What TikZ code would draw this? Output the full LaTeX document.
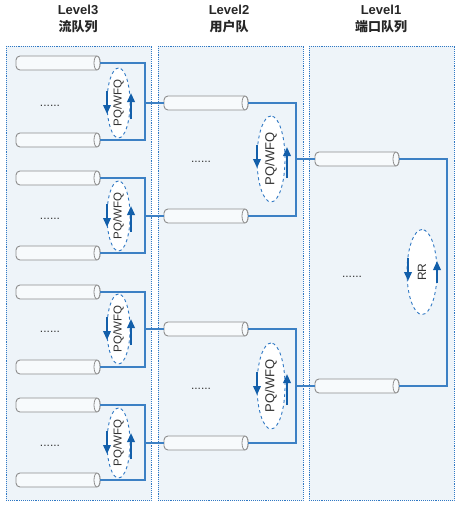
\documentclass[tikz,border=0pt]{standalone}
\usepackage{fontspec}
\setmainfont{Liberation Sans}
\newfontfamily\cjk{Noto Sans CJK SC}
\usetikzlibrary{shapes.geometric,arrows.meta}

\definecolor{panelfill}{HTML}{EEF4F9}
\definecolor{paneledge}{HTML}{2F78C4}
\definecolor{linkblue}{HTML}{3C80C4}
\definecolor{arrblue}{HTML}{135FAA}
\definecolor{cylfill}{HTML}{F7FAFC}
\definecolor{cyledge}{HTML}{8E8E8E}

\tikzset{
  panel/.style={draw=paneledge, fill=panelfill, densely dotted, line width=0.9pt},
  head/.style={align=center, font=\bfseries\fontsize{13}{17}\selectfont, text=black!85},
  queue/.style={rectangle, rounded corners=4pt, draw=cyledge, fill=cylfill, line width=0.9pt,
    minimum width=84pt, minimum height=14pt, inner sep=0pt, outer sep=0pt},
  qcap/.style={draw=cyledge, fill=cylfill, line width=0.8pt},
  link/.style={draw=linkblue, line width=1.2pt},
  sched/.style={ellipse, draw=paneledge, dashed, fill=white, line width=0.9pt,
    inner sep=0pt, rotate=90, text=black!80},
  turn/.style={draw=arrblue, line width=2pt, -{Triangle[width=7.5pt,length=9pt]}},
  dots/.style={anchor=base, font=\fontsize{12}{12}\selectfont, text=black!80}
}

\begin{document}
\begin{tikzpicture}[x=1pt,y=-1pt]
    \useasboundingbox (0,0) rectangle (462,511);

    % panels
    \draw[panel] (6,46) rectangle (151,500);
    \draw[panel] (158,46) rectangle (303,500);
    \draw[panel] (309,46) rectangle (454,500);

    % headers
    \node[head] (h3) at (78,19) {Level3\\{\cjk 流队列}};
    \node[head] (h2) at (229,19) {Level2\\{\cjk 用户队}};
    \node[head] (h1) at (381,19) {Level1\\{\cjk 端口队列}};

    % level 1 queues
    \node[queue] (q11) at (357,159) {};
    \node[queue] (q12) at (357,386) {};
    \draw[qcap] ([xshift=-3pt]q11.east) ellipse [x radius=3, y radius=7];
    \draw[qcap] ([xshift=-3pt]q12.east) ellipse [x radius=3, y radius=7];
    \node[dots] (d1) at (352,277) {......};
    \coordinate (j1) at (447,272);
    \draw[link] (q11.east) -| (j1) |- (q12.east);
    \node[sched, minimum width=85pt, minimum height=30pt,
          font=\fontsize{12}{12}\selectfont] (rr) at (422,272) {RR};
    \draw[turn] (408,258) -- (408,281);
    \draw[turn] (437,283) -- (437,261);

    % level 2 queues
    \foreach \i/\t/\b/\m in {1/103/216/159, 2/329/443/386} {
        \node[queue] (q2\i a) at (206,\t) {};
        \node[queue] (q2\i b) at (206,\b) {};
        \draw[qcap] ([xshift=-3pt]q2\i a.east) ellipse [x radius=3, y radius=7];
        \draw[qcap] ([xshift=-3pt]q2\i b.east) ellipse [x radius=3, y radius=7];
        \node[dots] (d2\i) at (201,\m+3) {......};
        \coordinate (j2\i) at (296,\m);
        \draw[link] (q2\i a.east) -| (j2\i) |- (q2\i b.east);
        \draw[link] (j2\i) -- (q1\i.west);
        \node[sched, minimum width=86pt, minimum height=28pt,
              font=\fontsize{13}{13}\selectfont] (s2\i) at (271,\m) {PQ/WFQ};
        \draw[turn] (257,\m-14) -- (257,\m+9);
        \draw[turn] (287,\m+19) -- (287,\m-12);
    }

    % level 3 queues
    \foreach \i/\t/\b/\m/\n in {1/63/140/103/1a, 2/178/253/216/1b, 3/292/367/329/2a, 4/405/480/443/2b} {
        \node[queue] (q3\i a) at (58,\t) {};
        \node[queue] (q3\i b) at (58,\b) {};
        \draw[qcap] ([xshift=-3pt]q3\i a.east) ellipse [x radius=3, y radius=7];
        \draw[qcap] ([xshift=-3pt]q3\i b.east) ellipse [x radius=3, y radius=7];
        \node[dots] (d3\i) at (50,\m+3) {......};
        \coordinate (j3\i) at (145,\m);
        \draw[link] (q3\i a.east) -| (j3\i) |- (q3\i b.east);
        \draw[link] (j3\i) -- (q2\n.west);
        \node[sched, minimum width=70pt, minimum height=23pt,
              font=\fontsize{11.5}{11.5}\selectfont] (s3\i) at (118.5,\m) {PQ/WFQ};
        \draw[turn] (107,\m-12) -- (107,\m+11);
        \draw[turn] (131,\m+16) -- (131,\m-10);
    }
\end{tikzpicture}
\end{document}
